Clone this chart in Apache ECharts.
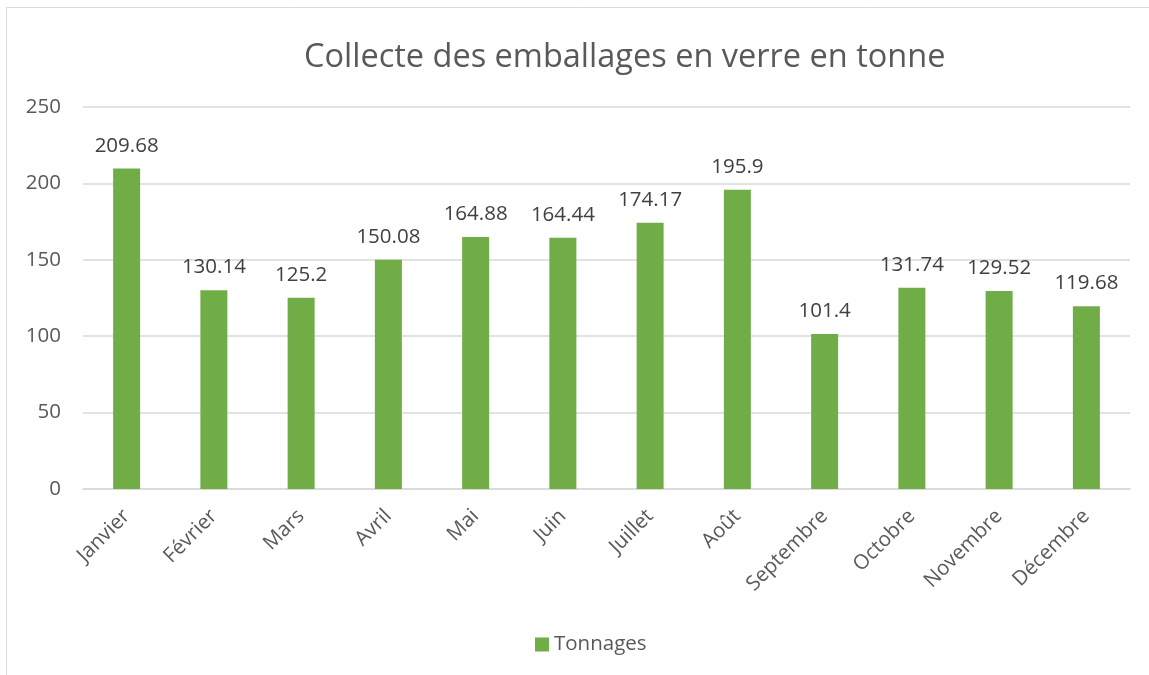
<!DOCTYPE html>
<html lang="fr">
<head>
    <meta charset="UTF-8">
    <title>Collecte des emballages en verre en tonne</title>
    <script src="https://cdn.jsdelivr.net/npm/echarts@6/dist/echarts.min.js"></script>
    <style>
        html, body { margin: 0; padding: 0; background: #fff; }
        #chart { width: 1149px; height: 675px; }
    </style>
</head>
<body>
<div id="chart"></div>
<script type="text/javascript">
    // données du graphique
    var mois = ['Janvier', 'Février', 'Mars', 'Avril', 'Mai', 'Juin', 'Juillet', 'Août', 'Septembre', 'Octobre', 'Novembre', 'Décembre'];
    var tonnages = [209.68, 130.14, 125.2, 150.08, 164.88, 164.44, 174.17, 195.9, 101.4, 131.74, 129.52, 119.68];
    var ticksY = [0, 50, 100, 150, 200, 250];

    var police = '"Open Sans", "Noto Sans", sans-serif';
    var myChart = echarts.init(document.getElementById('chart'));

    var option = {
        backgroundColor: '#fff',
        textStyle: { fontFamily: police },
        title: {
            text: 'Collecte des emballages en verre en tonne',
            left: 299,
            top: 36,
            textStyle: { fontFamily: police, fontSize: 32.5, fontWeight: 'normal', color: '#595959' }
        },
        graphic: [{
            type: 'rect',
            shape: { x: 6.5, y: 7.5, width: 1160, height: 700 },
            style: { fill: 'none', stroke: '#d9d9d9', lineWidth: 1 },
            silent: true
        }],
        legend: {
            data: ['Tonnages'],
            left: 530,
            top: 629,
            icon: 'rect',
            itemWidth: 14,
            itemHeight: 14,
            itemGap: 6,
            textStyle: { fontFamily: police, fontSize: 20.5, color: '#595959' }
        },
        grid: { left: 83, right: 19, top: 107, bottom: 186 },
        xAxis: {
            type: 'category',
            data: mois,
            axisTick: { show: false },
            axisLine: { lineStyle: { color: '#d9d9d9', width: 1.5 } },
            axisLabel: { rotate: 45, fontSize: 20.5, color: '#595959', margin: 24, fontFamily: police }
        },
        yAxis: {
            type: 'value',
            min: ticksY[0],
            max: ticksY[ticksY.length - 1],
            interval: 50,
            axisLine: { show: false },
            axisTick: { show: false },
            splitLine: { lineStyle: { color: '#d9d9d9', width: 1.5 } },
            axisLabel: { fontSize: 20.5, color: '#595959', margin: 22, fontFamily: police }
        },
        series: [{
            name: 'Tonnages',
            type: 'bar',
            data: tonnages,
            barWidth: 27,
            itemStyle: { color: '#70ad47' },
            label: {
                show: true,
                position: 'top',
                distance: 12,
                fontSize: 20.5,
                color: '#404040',
                fontFamily: police
            }
        }]
    };

    myChart.setOption(option);
</script>
</body>
</html>
